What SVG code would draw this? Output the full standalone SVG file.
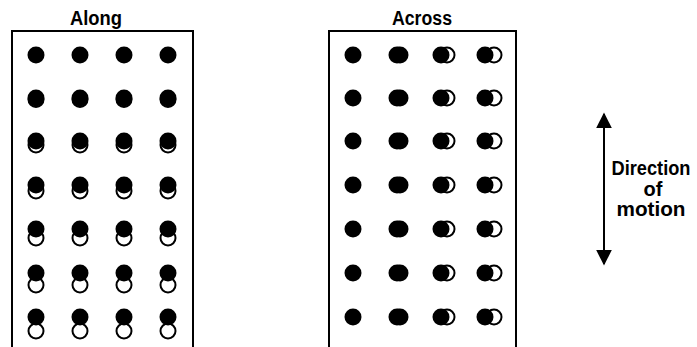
<svg xmlns="http://www.w3.org/2000/svg" width="697" height="347" viewBox="0 0 697 347">
<defs>
<style>
.t{font-family:"Liberation Sans",Arial,sans-serif;font-weight:bold;fill:#000;text-anchor:middle}
.box{fill:none;stroke:#000;stroke-width:2}
.f{fill:#000}
.o{fill:#fff;stroke:#000;stroke-width:2}
</style>
<marker id="ah" viewBox="0 0 10 10" refX="9" refY="5" markerWidth="16" markerHeight="16" markerUnits="userSpaceOnUse" orient="auto-start-reverse">
<path d="M0,0 L10,5 L0,10 Z" fill="#000"/>
</marker>
</defs>
<rect width="697" height="347" fill="#fff"/>

<g id="along">
<text class="t" x="96" y="25" font-size="20" textLength="52" lengthAdjust="spacingAndGlyphs">Along</text>
<path class="box" d="M12,347 V31 H193 V347"/>
<g id="along-dots">
<circle class="f" cx="36" cy="55" r="8.5"/><circle class="f" cx="80" cy="55" r="8.5"/><circle class="f" cx="124" cy="55" r="8.5"/><circle class="f" cx="168" cy="55" r="8.5"/>
<circle class="o" cx="36" cy="99.5" r="7.5"/><circle class="f" cx="36" cy="98" r="8.5"/>
<circle class="o" cx="80" cy="99.5" r="7.5"/><circle class="f" cx="80" cy="98" r="8.5"/>
<circle class="o" cx="124" cy="99.5" r="7.5"/><circle class="f" cx="124" cy="98" r="8.5"/>
<circle class="o" cx="168" cy="99.5" r="7.5"/><circle class="f" cx="168" cy="98" r="8.5"/>
<circle class="o" cx="36" cy="145" r="7.5"/><circle class="f" cx="36" cy="141" r="8.5"/>
<circle class="o" cx="80" cy="145" r="7.5"/><circle class="f" cx="80" cy="141" r="8.5"/>
<circle class="o" cx="124" cy="145" r="7.5"/><circle class="f" cx="124" cy="141" r="8.5"/>
<circle class="o" cx="168" cy="145" r="7.5"/><circle class="f" cx="168" cy="141" r="8.5"/>
<circle class="o" cx="36" cy="191" r="7.5"/><circle class="f" cx="36" cy="185" r="8.5"/>
<circle class="o" cx="80" cy="191" r="7.5"/><circle class="f" cx="80" cy="185" r="8.5"/>
<circle class="o" cx="124" cy="191" r="7.5"/><circle class="f" cx="124" cy="185" r="8.5"/>
<circle class="o" cx="168" cy="191" r="7.5"/><circle class="f" cx="168" cy="185" r="8.5"/>
<circle class="o" cx="36" cy="238" r="7.5"/><circle class="f" cx="36" cy="229" r="8.5"/>
<circle class="o" cx="80" cy="238" r="7.5"/><circle class="f" cx="80" cy="229" r="8.5"/>
<circle class="o" cx="124" cy="238" r="7.5"/><circle class="f" cx="124" cy="229" r="8.5"/>
<circle class="o" cx="168" cy="238" r="7.5"/><circle class="f" cx="168" cy="229" r="8.5"/>
<circle class="o" cx="36" cy="285" r="7.5"/><circle class="f" cx="36" cy="273" r="8.5"/>
<circle class="o" cx="80" cy="285" r="7.5"/><circle class="f" cx="80" cy="273" r="8.5"/>
<circle class="o" cx="124" cy="285" r="7.5"/><circle class="f" cx="124" cy="273" r="8.5"/>
<circle class="o" cx="168" cy="285" r="7.5"/><circle class="f" cx="168" cy="273" r="8.5"/>
<circle class="o" cx="36" cy="331" r="7.5"/><circle class="f" cx="36" cy="317" r="8.5"/>
<circle class="o" cx="80" cy="331" r="7.5"/><circle class="f" cx="80" cy="317" r="8.5"/>
<circle class="o" cx="124" cy="331" r="7.5"/><circle class="f" cx="124" cy="317" r="8.5"/>
<circle class="o" cx="168" cy="331" r="7.5"/><circle class="f" cx="168" cy="317" r="8.5"/>
</g>
</g>

<g id="across">
<text class="t" x="422" y="25" font-size="20" textLength="60" lengthAdjust="spacingAndGlyphs">Across</text>
<path class="box" d="M329,347 V31 H516 V347"/>
<g id="across-dots">
<g id="across-row" transform="translate(0,55)">
<circle class="f" cx="353" cy="0" r="8.5"/>
<circle class="f" cx="400" cy="0" r="8.5"/><circle class="f" cx="397" cy="0" r="8.5"/>
<circle class="o" cx="447" cy="0" r="7.5"/><circle class="f" cx="441" cy="0" r="8.5"/>
<circle class="o" cx="494" cy="0" r="7.5"/><circle class="f" cx="485" cy="0" r="8.5"/>
</g>
<use href="#across-row" y="43"/>
<use href="#across-row" y="86"/>
<use href="#across-row" y="130"/>
<use href="#across-row" y="174"/>
<use href="#across-row" y="218"/>
<use href="#across-row" y="262"/>
</g>
</g>

<g id="connectors">
<line x1="604" y1="128" x2="604" y2="114" stroke="#000" stroke-width="2" marker-end="url(#ah)"/>
<line x1="604" y1="125" x2="604" y2="264" stroke="#000" stroke-width="2" marker-end="url(#ah)"/>
</g>

<g id="direction-label">
<text class="t" x="651" y="175" font-size="20" textLength="79" lengthAdjust="spacingAndGlyphs">Direction</text>
<text class="t" x="653" y="196" font-size="20">of</text>
<text class="t" x="651" y="216" font-size="20" textLength="69" lengthAdjust="spacingAndGlyphs">motion</text>
</g>
</svg>
